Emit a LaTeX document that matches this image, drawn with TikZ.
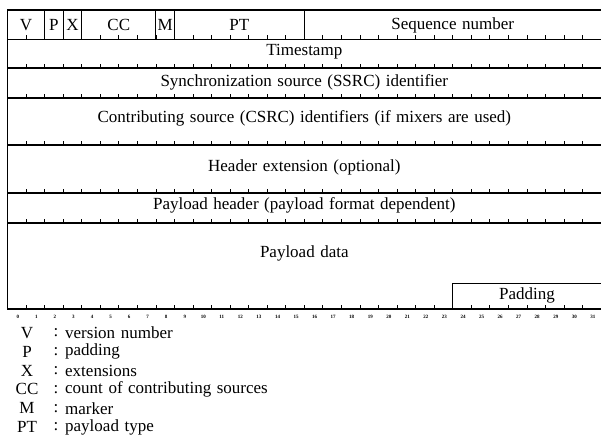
\documentclass[tikz,border=0pt]{standalone}
\usepackage{fontspec}
\setmainfont{Liberation Serif}[WordSpace=1.3]
\begin{document}
\begin{tikzpicture}[x=1pt,y=-1pt]
\useasboundingbox (0,0) rectangle (601,436);
\def\bw{18.55}
\tikzset{
 field/.style={font=\fontsize{17}{17}\selectfont, inner sep=0pt, anchor=center},
 legsym/.style={font=\fontsize{17}{17}\selectfont, inner sep=0pt, anchor=center},
 legtxt/.style={font=\fontsize{17}{17}\selectfont, inner sep=0pt, anchor=west},
 bitnum/.style={font=\fontsize{5}{5}\selectfont\bfseries, inner sep=0pt},
 hrule/.style={line width=1.4pt},
 vrule/.style={line width=1pt},
 tickmark/.style={line width=0.8pt}
}
% horizontal rules
\foreach \y in {10,39.5,68,98,145,193,223} \draw[hrule] (7.5,\y) -- (601,\y);
\draw[line width=2pt] (7.5,309) -- (601,309);
\draw[line width=1.8pt] (7.5,9.3) -- (7.5,310);
% field separators in first row
\foreach \b in {2,3,4,8,9,16} \draw[vrule] ({7.5+\b*\bw},10) -- ({7.5+\b*\bw},39.5);
% ticks
\foreach \y in {39.5,68,98,145,193,223,309}
  \foreach \b in {1,...,31} \draw[tickmark] ({7.5+\b*\bw},\y) -- ++(0,-4);
% padding box
\draw[vrule] ({7.5+24*\bw},309) -- ({7.5+24*\bw},283) -- (601,283);
% first row labels
\node[field] (v)  at ({7.5+1*\bw},25) {V};
\node[field] (p)  at ({7.5+2.5*\bw},25) {P};
\node[field] (x)  at ({7.5+3.5*\bw},25) {X};
\node[field] (cc) at ({7.5+6*\bw},25) {CC};
\node[field] (m)  at ({7.5+8.5*\bw},25) {M};
\node[field] (pt) at ({7.5+12.5*\bw},25) {PT};
\node[field] (seq) at ({7.5+24*\bw},25) {Sequence number};
% other rows
\node[field] (ts)   at ({7.5+16*\bw},52) {Timestamp};
\node[field] (ssrc) at ({7.5+16*\bw},82) {Synchronization source (SSRC) identifier};
\node[field] (csrc) at ({7.5+16*\bw},118) {Contributing source (CSRC) identifiers (if mixers are used)};
\node[field] (hext) at ({7.5+16*\bw},167) {Header extension (optional)};
\node[field] (phdr) at ({7.5+16*\bw},205) {Payload header (payload format dependent)};
\node[field] (pdat) at ({7.5+16*\bw},253) {Payload data};
\node[field] (pad)  at ({7.5+28*\bw},295) {Padding};
% bit numbers
\foreach \b in {0,...,31} \node[bitnum] (n\b) at ({17.8+\b*\bw},316.5) {\b};
% legend
\foreach \s/\t [count=\i from 0] in {V/version number, P/padding, X/extensions, CC/count of contributing sources, M/marker, PT/payload type}{
  \node[legsym] (ls\i) at (27,{333+18.8*\i}) {\s};
  \node[legtxt] (lc\i) at (53.5,{333+18.8*\i}) {:};
  \node[legtxt] (lt\i) at (65,{333+18.8*\i}) {\t};
}
\end{tikzpicture}
\end{document}
